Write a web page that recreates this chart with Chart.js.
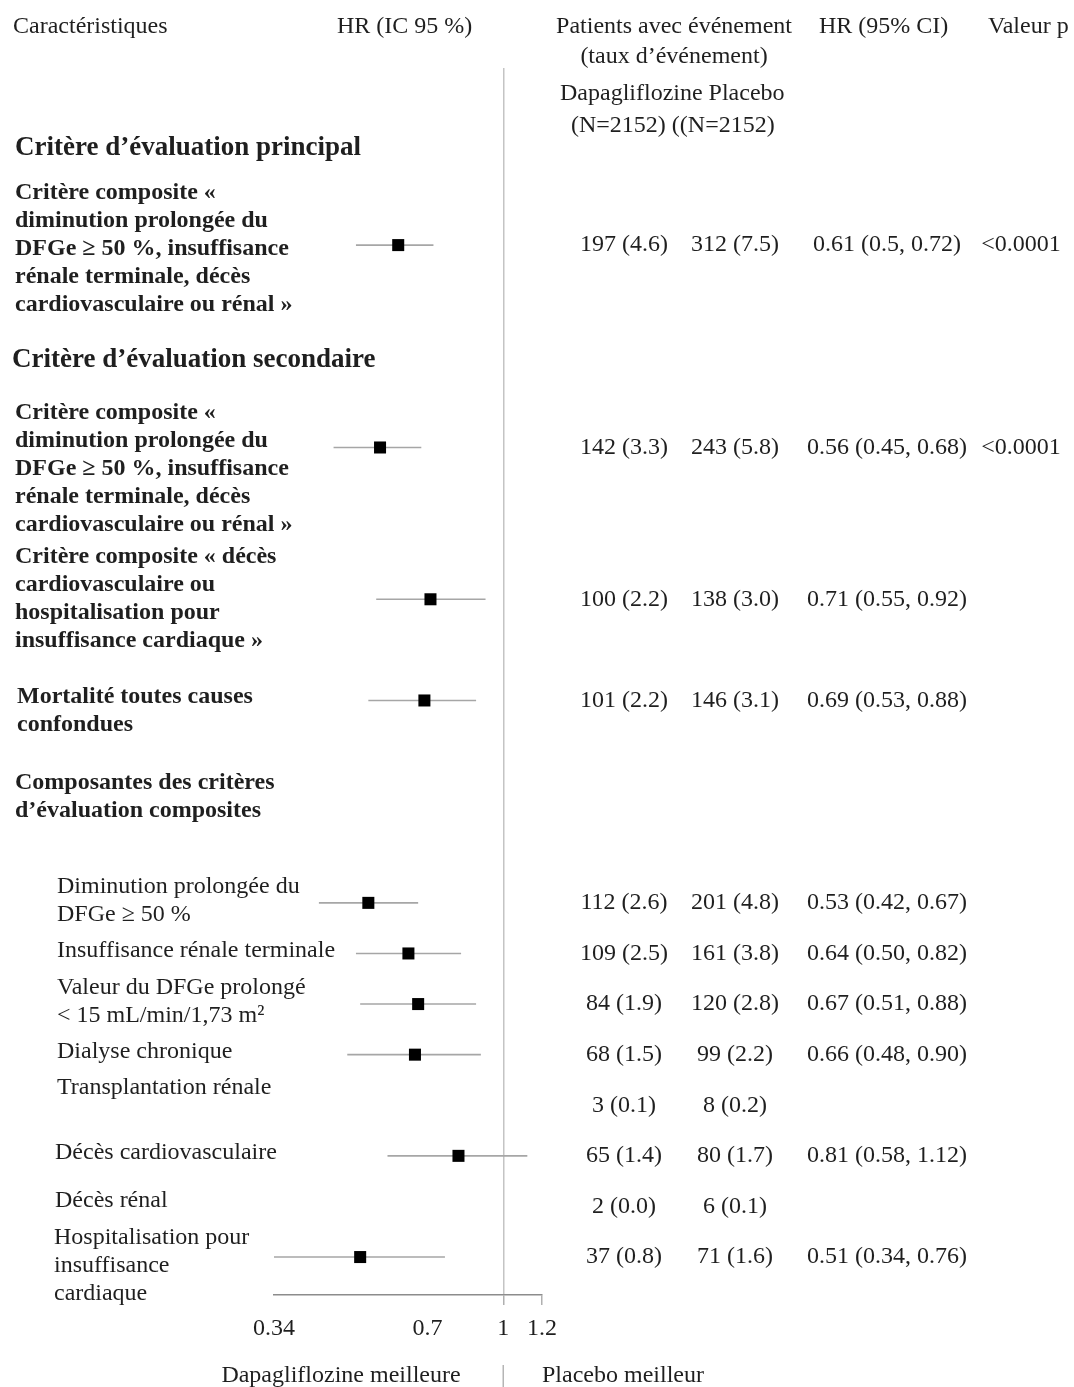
<!DOCTYPE html>
<html>
<head>
<meta charset="utf-8">
<script src="https://cdn.jsdelivr.net/npm/chart.js@4.4.1/dist/chart.umd.min.js"></script>
<style>
  html, body { margin: 0; padding: 0; background: #ffffff; }
  canvas { display: block; }
</style>
</head>
<body>
<canvas id="forest" width="1074" height="1387"></canvas>
<script>
// ---- Data -------------------------------------------------------------
// Row index of each outcome on the vertical scale
const rowIndex = [0, 4, 7, 9, 13, 14, 15, 16, 17, 18, 19, 20];

// Hazard ratios and 95 % CI bounds (kept as printed; null = not estimated)
const hazardRatio = ['0.61', '0.56', '0.71', '0.69', '0.53', '0.64', '0.67', '0.66', null, '0.81', null, '0.51'];
const ciLower     = ['0.5',  '0.45', '0.55', '0.53', '0.42', '0.50', '0.51', '0.48', null, '0.58', null, '0.34'];
const ciUpper     = ['0.72', '0.68', '0.92', '0.88', '0.67', '0.82', '0.88', '0.90', null, '1.12', null, '0.76'];

// Patients with event (event rate)
const dapaEvents    = [197, 142, 100, 101, 112, 109, 84, 68, 3, 65, 2, 37];
const dapaRate      = ['4.6', '3.3', '2.2', '2.2', '2.6', '2.5', '1.9', '1.5', '0.1', '1.4', '0.0', '0.8'];
const placeboEvents = [312, 243, 138, 146, 201, 161, 120, 99, 8, 80, 6, 71];
const placeboRate   = ['7.5', '5.8', '3.0', '3.1', '4.8', '3.8', '2.8', '2.2', '0.2', '1.7', '0.1', '1.6'];

const pValues = ['<0.0001', '<0.0001', null, null, null, null, null, null, null, null, null, null];

// Outcome labels (one entry per row, split into printed lines)
const rowLabels = [
  ['Critère composite «', 'diminution prolongée du', 'DFGe ≥ 50 %, insuffisance', 'rénale terminale, décès', 'cardiovasculaire ou rénal »'],
  ['Critère composite «', 'diminution prolongée du', 'DFGe ≥ 50 %, insuffisance', 'rénale terminale, décès', 'cardiovasculaire ou rénal »'],
  ['Critère composite « décès', 'cardiovasculaire ou', 'hospitalisation pour', 'insuffisance cardiaque »'],
  ['Mortalité toutes causes', 'confondues'],
  ['Diminution prolongée du', 'DFGe ≥ 50 %'],
  ['Insuffisance rénale terminale'],
  ['Valeur du DFGe prolongé', '< 15 mL/min/1,73 m²'],
  ['Dialyse chronique'],
  ['Transplantation rénale'],
  ['Décès cardiovasculaire'],
  ['Décès rénal'],
  ['Hospitalisation pour', 'insuffisance', 'cardiaque']
];

const sectionHeaders = [
  ['Critère d’évaluation principal'],
  ['Critère d’évaluation secondaire'],
  ['Composantes des critères', 'd’évaluation composites']
];

const xTickValues = [0.34, 0.7, 1, 1.2];
const xTickLabels = ['0.34', '0.7', '1', '1.2'];

// ---- Text layout ----------------------------------------------------
const SERIF = '"Liberation Serif", "Times New Roman", serif';
const TEXT = '#1f1f1f';
const LINE = 28;

// where each row label block starts (left x, first line centre y, bold?)
const rowLabelPos = [
  { x: 15, y: 193, bold: true }, { x: 15, y: 413, bold: true }, { x: 15, y: 557, bold: true },
  { x: 17, y: 697, bold: true }, { x: 57, y: 887 }, { x: 57, y: 951 }, { x: 57, y: 988 },
  { x: 57, y: 1052 }, { x: 57, y: 1088 }, { x: 55, y: 1153 }, { x: 55, y: 1201 }, { x: 54, y: 1238 }
];
const sectionPos = [
  { x: 15, y: 148, size: 27 }, { x: 12, y: 360, size: 27 }, { x: 15, y: 783, size: 24 }
];

const fmtCount = (n, r) => n + ' (' + r + ')';

const textPlugin = {
  id: 'forestText',
  afterDraw(chart) {
    const ctx = chart.ctx;
    const yS = chart.scales.y;
    const xS = chart.scales.x;
    ctx.save();
    ctx.fillStyle = TEXT;
    ctx.textBaseline = 'middle';

    const put = (txt, x, y, font, align) => {
      ctx.font = font;
      ctx.textAlign = align || 'left';
      ctx.fillText(txt, x, y);
    };
    const normal = '24px ' + SERIF;
    const bold = 'bold 24px ' + SERIF;

    // column headers
    put('Caractéristiques', 13, 27, normal);
    put('HR (IC 95 %)', 337, 27, normal);
    put('Patients avec événement', 674, 27, normal, 'center');
    put('(taux d’événement)', 674, 57, normal, 'center');
    put('HR (95% CI)', 819, 27, normal);
    put('Valeur p', 988, 27, normal);
    put('Dapagliflozine Placebo', 560, 94, normal);
    put('(N=2152) ((N=2152)', 571, 126, normal);

    // section headers
    sectionHeaders.forEach((lines, i) => {
      const p = sectionPos[i];
      lines.forEach((l, k) => put(l, p.x, p.y + k * LINE, 'bold ' + p.size + 'px ' + SERIF));
    });

    // row labels
    rowLabels.forEach((lines, i) => {
      const p = rowLabelPos[i];
      lines.forEach((l, k) => put(l, p.x, p.y + k * LINE, p.bold ? bold : normal));
    });

    // numeric columns, aligned on each row of the y scale
    rowIndex.forEach((r, i) => {
      const y = yS.getPixelForValue(r);
      put(fmtCount(dapaEvents[i], dapaRate[i]), 624, y, normal, 'center');
      put(fmtCount(placeboEvents[i], placeboRate[i]), 735, y, normal, 'center');
      if (hazardRatio[i] !== null) {
        put(hazardRatio[i] + ' (' + ciLower[i] + ', ' + ciUpper[i] + ')', 887, y, normal, 'center');
      }
      if (pValues[i] !== null) put(pValues[i], 1021, y, normal, 'center');
    });

    // favour labels under the axis
    const x1 = xS.getPixelForValue(1);
    put('Dapagliflozine meilleure', 341, 1376, normal, 'center');
    put('Placebo meilleur', 542, 1376, normal);
    ctx.strokeStyle = '#b5b5b5';
    ctx.lineWidth = 1.5;
    ctx.beginPath();
    ctx.moveTo(x1, 1365);
    ctx.lineTo(x1, 1387);
    ctx.stroke();
    ctx.restore();
  }
};

// ---- Datasets -------------------------------------------------------
// confidence-interval whiskers underneath, squares on top
const datasets = [];
rowIndex.forEach((r, i) => {
  if (hazardRatio[i] === null) return;
  datasets.push({
    type: 'line',
    order: 2,
    data: [{ x: Number(ciLower[i]), y: r }, { x: Number(ciUpper[i]), y: r }],
    borderColor: '#a6a6a6',
    borderWidth: 1.6,
    pointRadius: 0,
    showLine: true,
    fill: false
  });
});
datasets.push({
  type: 'scatter',
  order: 1,
  data: rowIndex
    .map((r, i) => (hazardRatio[i] === null ? null : { x: Number(hazardRatio[i]), y: r }))
    .filter(p => p !== null),
  pointStyle: 'rect',
  pointRadius: 8.5,
  backgroundColor: '#000000',
  borderColor: '#000000',
  borderWidth: 0
});

new Chart(document.getElementById('forest'), {
  type: 'scatter',
  data: { datasets },
  options: {
    responsive: false,
    devicePixelRatio: 1,
    animation: false,
    events: [],
    layout: { padding: { left: 274, right: 532, top: 68, bottom: 42 } },
    plugins: { legend: { display: false }, tooltip: { enabled: false } },
    scales: {
      x: {
        type: 'logarithmic',
        min: 0.34,
        max: 1.2,
        afterBuildTicks(scale) {
          scale.ticks = xTickValues.map(v => ({ value: v }));
        },
        afterFit(scale) { scale.height = 50; },
        ticks: {
          autoSkip: false,
          maxRotation: 0,
          padding: 9,
          color: TEXT,
          font: { family: SERIF, size: 24 },
          callback: (v) => xTickLabels[xTickValues.indexOf(v)]
        },
        grid: {
          drawOnChartArea: true,
          tickLength: 10,
          lineWidth: 1.5,
          color: (c) => (c.tick && c.tick.value === 1 ? '#c4c4c4' : 'rgba(0,0,0,0)'),
          tickColor: (c) => (c.tick && (c.tick.value === 1 || c.tick.value === 1.2) ? '#b0b0b0' : 'rgba(0,0,0,0)')
        },
        border: { display: true, color: '#8c8c8c', width: 1.5 }
      },
      y: {
        type: 'linear',
        display: false,
        reverse: true,
        min: -3.5,
        max: 20.75
      }
    }
  },
  plugins: [textPlugin]
});
</script>
</body>
</html>
